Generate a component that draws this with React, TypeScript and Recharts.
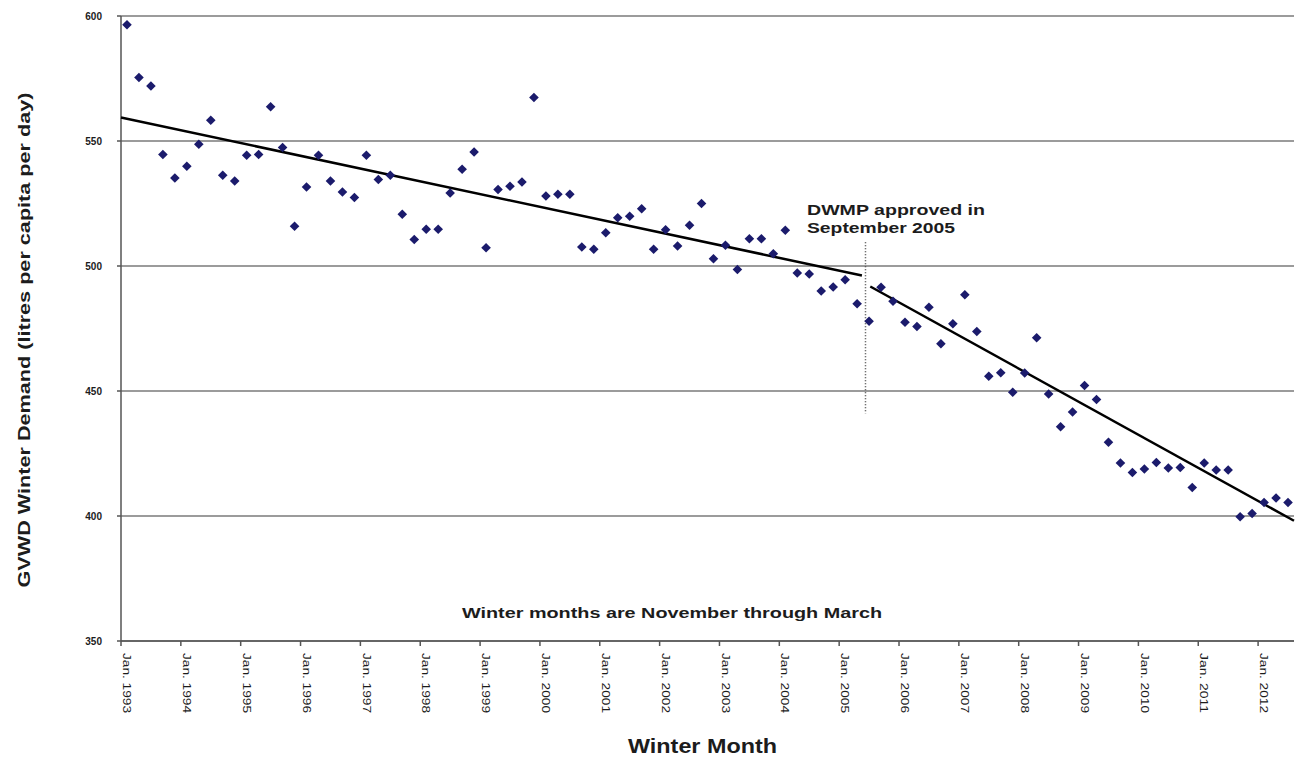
import React from 'react';
import { ComposedChart, Scatter, XAxis, YAxis, CartesianGrid, ReferenceLine } from 'recharts';

const WIDTH = 1304;
const HEIGHT = 762;
const MARGIN = { top: 16, right: 10, left: 81, bottom: 51 };
const Y_AXIS_W = 40;
const X_AXIS_H = 70;

// winter months: Jan-Mar 1993, then Nov..Mar of each winter up to Mar. 2012
const demand = [
  596.5, 575.4, 572.0,
  544.6, 535.2, 539.9, 548.7, 558.3,
  536.3, 534.0, 544.3, 544.6, 563.7,
  547.4, 515.9, 531.6, 544.3, 534.0,
  529.6, 527.4, 544.3, 534.6, 536.3,
  520.7, 510.6, 514.7, 514.7, 529.2,
  538.7, 545.6, 507.3, 530.6, 531.9,
  533.6, 567.4, 528.0, 528.7, 528.7,
  507.6, 506.7, 513.3, 519.3, 519.9,
  522.9, 506.7, 514.5, 508.0, 516.3,
  525.0, 502.9, 508.3, 498.6, 510.9,
  510.9, 504.9, 514.3, 497.2, 496.8,
  490.0, 491.6, 494.5, 484.9, 477.9,
  491.5, 485.9, 477.5, 475.8, 483.5,
  468.9, 476.9, 488.5, 473.8, 455.9,
  457.3, 449.5, 457.2, 471.3, 448.8,
  435.7, 441.6, 452.2, 446.6, 429.5,
  421.2, 417.4, 418.8, 421.4, 419.2,
  419.4, 411.4, 421.2, 418.4, 418.4,
  399.7, 401.0, 405.4, 407.2, 405.4,
];

const janLabels = [
  'Jan. 1993', 'Jan. 1994', 'Jan. 1995', 'Jan. 1996', 'Jan. 1997',
  'Jan. 1998', 'Jan. 1999', 'Jan. 2000', 'Jan. 2001', 'Jan. 2002',
  'Jan. 2003', 'Jan. 2004', 'Jan. 2005', 'Jan. 2006', 'Jan. 2007',
  'Jan. 2008', 'Jan. 2009', 'Jan. 2010', 'Jan. 2011', 'Jan. 2012',
];
const janIndex = janLabels.map((_, k) => k * 5);

// trend lines before / after the DWMP (x = month index)
const trendBefore = [{ i: -0.5, v: 559.4 }, { i: 61.4, v: 496.2 }];
const trendAfter = [{ i: 62.1, v: 491.8 }, { i: 97.5, v: 398.1 }];
const dwmpMarker = [{ x: 61.7, y: 509.5 }, { x: 61.7, y: 441 }];

const yTicks = [350, 400, 450, 500, 550, 600];

const points = demand.map((v, i) => ({ i, v }));

const PLOT_W = WIDTH - MARGIN.left - Y_AXIS_W - MARGIN.right;
const STEP = PLOT_W / demand.length;
const FONT = '"Liberation Sans", Arial, sans-serif';
const INK = '#1c1c1c';

const Diamond = (props: any) => {
  const { cx, cy } = props;
  if (cx == null || cy == null) return <g />;
  const r = 4.8;
  return (
    <polygon
      points={`${cx},${cy - r} ${cx + r},${cy} ${cx},${cy + r} ${cx - r},${cy}`}
      fill="#1b1b6c"
    />
  );
};

const NoDot = () => <g />;

const XTick = ({ x, y, payload }: any) => {
  const label = janLabels[Math.round(payload.value / 5)];
  const tx = x - STEP / 2;
  return (
    <g>
      <line x1={tx} x2={tx} y1={y - 12} y2={y - 7} stroke="#555" strokeWidth={1.5} />
      <text
        x={x}
        y={y}
        dy="0.35em"
        transform={`rotate(90, ${x}, ${y})`}
        textAnchor="start"
        fontFamily={FONT}
        fontSize={11}
        fill={INK}
        textLength={60}
        lengthAdjust="spacingAndGlyphs"
      >
        {label}
      </text>
    </g>
  );
};

export default function App() {
  return (
    <div style={{ position: 'absolute', left: 0, top: 0, width: WIDTH, height: HEIGHT, background: '#fff' }}>
      <ComposedChart width={WIDTH} height={HEIGHT} margin={MARGIN}>
        <CartesianGrid vertical={false} stroke="#7a7a7a" strokeWidth={1.6} />
        <XAxis
          dataKey="i"
          type="number"
          domain={[-0.5, 97.5]}
          ticks={janIndex}
          interval={0}
          height={X_AXIS_H}
          tickSize={4}
          tickMargin={8}
          tickLine={false}
          tick={<XTick />}
          stroke="#555"
          strokeWidth={1.5}
        />
        <YAxis
          dataKey="v"
          type="number"
          domain={[350, 600]}
          ticks={yTicks}
          width={Y_AXIS_W}
          tickSize={4}
          tickMargin={15}
          stroke="#555"
          strokeWidth={1.5}
          tick={{ fontFamily: FONT, fontSize: 10, fontWeight: 'bold', fill: INK }}
        />
        <ReferenceLine
          segment={dwmpMarker}
          stroke="#444"
          strokeWidth={1.5}
          strokeDasharray="1 2"
        />
        <Scatter
          data={trendBefore}
          line={{ stroke: '#000', strokeWidth: 2.5 }}
          shape={<NoDot />}
          isAnimationActive={false}
        />
        <Scatter
          data={trendAfter}
          line={{ stroke: '#000', strokeWidth: 2.5 }}
          shape={<NoDot />}
          isAnimationActive={false}
        />
        <Scatter data={points} shape={<Diamond />} isAnimationActive={false} />
      </ComposedChart>
      <svg
        width={WIDTH}
        height={HEIGHT}
        style={{ position: 'absolute', left: 0, top: 0, pointerEvents: 'none' }}
      >
        <g fontFamily={FONT} fill={INK} fontWeight="bold">
          <text
            transform="translate(30, 340) rotate(-90)"
            textAnchor="middle"
            fontSize={17}
            textLength={495}
            lengthAdjust="spacingAndGlyphs"
          >
            GVWD Winter Demand (litres per capita per day)
          </text>
          <text x={628} y={753} fontSize={20} textLength={149} lengthAdjust="spacingAndGlyphs">
            Winter Month
          </text>
          <text x={462} y={618} fontSize={14} textLength={420} lengthAdjust="spacingAndGlyphs">
            Winter months are November through March
          </text>
          <text x={807} y={215} fontSize={15} textLength={178} lengthAdjust="spacingAndGlyphs">
            DWMP approved in
          </text>
          <text x={807} y={233} fontSize={15} textLength={148} lengthAdjust="spacingAndGlyphs">
            September 2005
          </text>
        </g>
      </svg>
    </div>
  );
}
